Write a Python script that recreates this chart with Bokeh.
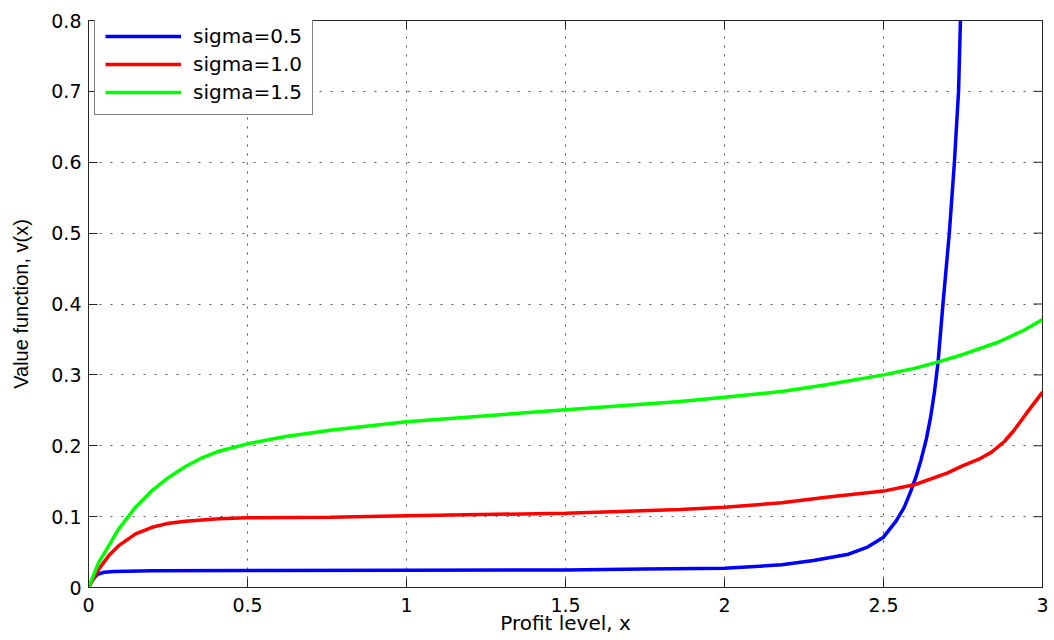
import math
from bokeh.plotting import figure
from bokeh.models import Range1d, FixedTicker, Legend, LegendItem
from bokeh.embed import file_html
from bokeh.resources import INLINE

# ---- data ----
x_s05 = [0, 0.01, 0.02, 0.03, 0.05, 0.08, 0.12, 0.2, 0.5, 1.0, 1.5, 1.75, 2.0,
         2.18, 2.28, 2.39, 2.45, 2.5, 2.54, 2.565, 2.585, 2.602, 2.618, 2.635,
         2.648, 2.66, 2.672, 2.687, 2.707, 2.723, 2.736, 2.742, 2.748]
y_s05 = [0, 0.009, 0.015, 0.019, 0.0215, 0.0225, 0.023, 0.0235, 0.024, 0.0243,
         0.0248, 0.026, 0.027, 0.032, 0.038, 0.047, 0.057, 0.071, 0.094, 0.113,
         0.135, 0.156, 0.18, 0.21, 0.24, 0.275, 0.32, 0.4, 0.5, 0.6, 0.7, 0.8, 0.9]

x_s10 = [0, 0.0325, 0.064, 0.095, 0.148, 0.2, 0.253, 0.305, 0.41, 0.5, 0.76,
         1.0, 1.5, 1.86, 2.0, 2.18, 2.32, 2.5, 2.6, 2.7, 2.75, 2.8, 2.84, 2.88,
         2.91, 2.96, 3.0]
y_s10 = [0, 0.026, 0.045, 0.059, 0.0757, 0.085, 0.0908, 0.0936, 0.0969, 0.0983,
         0.0992, 0.1011, 0.1049, 0.110, 0.1133, 0.1195, 0.1274, 0.136, 0.1453,
         0.1613, 0.172, 0.181, 0.191, 0.206, 0.2215, 0.252, 0.2756]

x_s15 = [0, 0.0325, 0.064, 0.095, 0.148, 0.2, 0.253, 0.305, 0.357, 0.41, 0.5,
         0.62, 0.76, 1.0, 1.5, 1.86, 2.0, 2.18, 2.32, 2.5, 2.6, 2.67, 2.75, 2.86,
         2.94, 3.0]
y_s15 = [0, 0.0357, 0.059, 0.0828, 0.1133, 0.1369, 0.1556, 0.1707, 0.183,
         0.1923, 0.2027, 0.213, 0.222, 0.234, 0.2507, 0.2624, 0.2685, 0.2765,
         0.286, 0.300, 0.3095, 0.318, 0.3288, 0.346, 0.3626, 0.378]

series_labels = ["sigma=0.5", "sigma=1.0", "sigma=1.5"]

x_ticks = [0, 0.5, 1, 1.5, 2, 2.5, 3]
x_tick_labels = ["0", "0.5", "1", "1.5", "2", "2.5", "3"]
y_ticks = [0, 0.1, 0.2, 0.3, 0.4, 0.5, 0.6, 0.7, 0.8]
y_tick_labels = ["0", "0.1", "0.2", "0.3", "0.4", "0.5", "0.6", "0.7", "0.8"]

x_label = "Profit level, x"
y_label = "Value function, v(x)"

X_MIN, X_MAX = 0, 3
Y_MIN, Y_MAX = 0, 0.8

# ---- figure ----
p = figure(width=1050, height=640, x_range=Range1d(X_MIN, X_MAX),
           y_range=Range1d(Y_MIN, Y_MAX),
           output_backend="svg", toolbar_location=None,
           min_border_left=88, min_border_right=8, min_border_top=20,
           min_border_bottom=53,
           background_fill_color="white", border_fill_color="white")
p.outline_line_color = "#262626"
p.outline_line_width = 1

AX = "#262626"
tick_font = "DejaVu Sans"

xa = p.xaxis[0]
xa.ticker = FixedTicker(ticks=x_ticks)
xa.major_label_overrides = {t: l for t, l in zip(x_ticks, x_tick_labels)}
ya = p.yaxis[0]
ya.ticker = FixedTicker(ticks=y_ticks)
ya.major_label_overrides = {t: l for t, l in zip(y_ticks, y_tick_labels)}

for ax in (xa, ya):
    ax.axis_line_color = AX
    ax.major_tick_line_color = AX
    ax.major_tick_in = 9
    ax.major_tick_out = 0
    ax.minor_tick_line_color = None
    ax.major_label_text_font = tick_font
    ax.major_label_text_font_size = "19px"
    ax.major_label_text_color = "black"
    ax.axis_label_text_color = "black"
    ax.axis_label_text_font_style = "normal"

xa.major_label_standoff = 10
ya.major_label_standoff = 7
xa.axis_label = x_label
xa.axis_label_text_font = "DejaVu Sans"
xa.axis_label_text_font_size = "20px"
xa.axis_label_standoff = -4
ya.axis_label = y_label
ya.axis_label_text_font = "Liberation Sans"
ya.axis_label_text_font_size = "20px"
ya.axis_label_standoff = 16

# grid: dotted
p.xgrid.ticker = FixedTicker(ticks=x_ticks)
p.ygrid.ticker = FixedTicker(ticks=y_ticks)
p.xgrid.grid_line_color = "#555555"
p.xgrid.grid_line_dash = "2 7"
p.ygrid.grid_line_color = "#555555"
p.ygrid.grid_line_dash = "2 9"
p.xgrid.grid_line_width = 1
p.ygrid.grid_line_width = 1

# inner tick marks on the top and right frame edges (half clipped by the frame)
p.scatter(x_ticks, [Y_MAX] * len(x_ticks), marker="dash", angle=math.pi / 2,
          size=18, line_color=AX, line_width=1)
p.scatter([X_MAX] * len(y_ticks), y_ticks, marker="dash", angle=0,
          size=18, line_color=AX, line_width=1)

r1 = p.line(x_s05, y_s05, line_color="#0000FF", line_width=3.5)
r2 = p.line(x_s10, y_s10, line_color="#FF0000", line_width=3.5)
r3 = p.line(x_s15, y_s15, line_color="#00FF00", line_width=3.5)

legend = Legend(items=[LegendItem(label=series_labels[0], renderers=[r1]),
                       LegendItem(label=series_labels[1], renderers=[r2]),
                       LegendItem(label=series_labels[2], renderers=[r3])],
                location=(6, 472))
legend.border_line_color = "black"
legend.border_line_width = 1
legend.background_fill_color = "white"
legend.background_fill_alpha = 1
legend.label_text_font = "DejaVu Sans"
legend.label_text_font_size = "20px"
legend.label_text_color = "black"
legend.glyph_width = 76
legend.glyph_height = 22
legend.label_height = 22
legend.spacing = 4
legend.padding = 10
legend.label_standoff = 12
legend.margin = 0
p.add_layout(legend, "center")

open("out.html", "w").write(file_html(p, INLINE))
